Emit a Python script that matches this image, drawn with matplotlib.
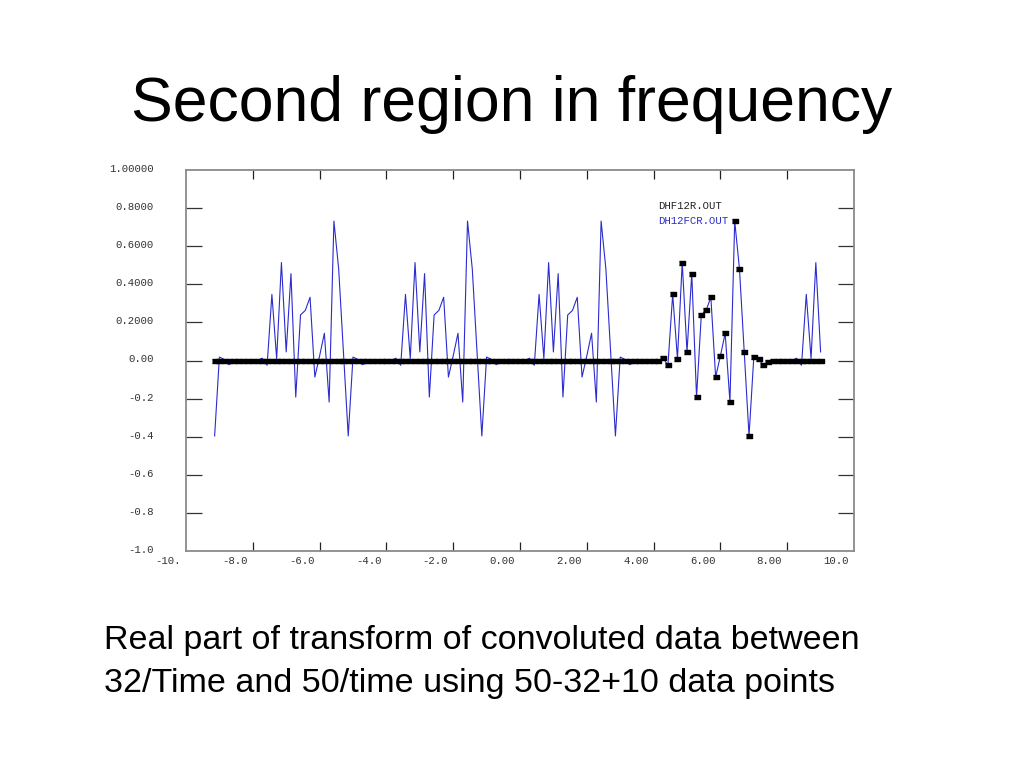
import numpy as np
import matplotlib
matplotlib.use("Agg")
import matplotlib.pyplot as plt
from matplotlib import transforms

# sample index k = -64..63, frequency = k / 7
k_index = np.arange(-64, 64)
freq = k_index / 7.0

# DH12FCR.OUT (blue line)
blue_vals = [
    -0.396, 0.018, 0.006, -0.022, -0.008, -0.003, -0.002, -0.002, -0.001, 0.000,
    0.012, -0.025, 0.347, 0.010, 0.514, 0.045, 0.456, -0.192, 0.239, 0.263,
    0.332, -0.087, 0.024, 0.143, -0.218, 0.732, 0.480, 0.045, -0.396, 0.018,
    0.006, -0.022, -0.008, -0.003, -0.002, -0.002, -0.001, 0.000,
    0.012, -0.025, 0.347, 0.010, 0.514, 0.045, 0.456, -0.192, 0.239, 0.263,
    0.332, -0.087, 0.024, 0.143, -0.218, 0.732, 0.480, 0.045, -0.396, 0.018,
    0.006, -0.022, -0.008, -0.003, -0.002, -0.002, -0.001, 0.000,
    0.012, -0.025, 0.347, 0.010, 0.514, 0.045, 0.456, -0.192, 0.239, 0.263,
    0.332, -0.087, 0.024, 0.143, -0.218, 0.732, 0.480, 0.045, -0.396, 0.018,
    0.006, -0.022, -0.008, -0.003, -0.002, -0.002, -0.001, 0.000,
    0.012, -0.025, 0.347, 0.010, 0.514, 0.045, 0.456, -0.192, 0.239, 0.263,
    0.332, -0.087, 0.024, 0.143, -0.218, 0.732, 0.480, 0.045, -0.396, 0.018,
    0.006, -0.022, -0.008, -0.003, -0.002, -0.002, -0.001, 0.000,
    0.012, -0.025, 0.347, 0.010, 0.514, 0.045,
]

# DHF12R.OUT (black markers): zero except one window of 28 points
black_window = [
    0.012, -0.025, 0.347, 0.010, 0.514, 0.045, 0.456, -0.192, 0.239, 0.263,
    0.332, -0.087, 0.024, 0.143, -0.218, 0.732, 0.480, 0.045, -0.396, 0.018,
    0.006, -0.022, -0.008, -0.003, -0.002, -0.002, -0.001, 0.000,
]
black_vals = [0.0] * 94 + black_window + [0.0] * 6

x_tick_vals = [-10, -8, -6, -4, -2, 0, 2, 4, 6, 8, 10]
x_tick_text = ["-10.", "-8.0", "-6.0", "-4.0", "-2.0", "0.00", "2.00", "4.00", "6.00", "8.00", "10.0"]
y_tick_vals = [1.0, 0.8, 0.6, 0.4, 0.2, 0.0, -0.2, -0.4, -0.6, -0.8, -1.0]
y_tick_text = ["1.00000", "0.8000", "0.6000", "0.4000", "0.2000", "0.00",
               "-0.2", "-0.4", "-0.6", "-0.8", "-1.0"]

title = "Second region in frequency"
caption = ["Real part of transform of convoluted data between",
           "32/Time and 50/time using 50-32+10 data points"]

BLUE = "#2b2bd0"
MONO = "Liberation Mono"

fig = plt.figure(figsize=(10.24, 7.68), dpi=100)
ax = fig.add_axes([186 / 1024, 1 - 551 / 768, 668 / 1024, 381 / 768])

ax.plot(freq, blue_vals, color=BLUE, lw=0.8, zorder=2)
rect = [(-3, -1.8), (3, -1.8), (3, 1.8), (-3, 1.8)]
ax.plot(freq, black_vals, ls="none", marker=rect, markersize=4.4,
        color="black", zorder=3)

ax.set_xlim(-10, 10)
ax.set_ylim(-1, 1)

for s in ax.spines.values():
    s.set_color("#8a8a8a")
    s.set_linewidth(1.3)

ax.set_xticks(x_tick_vals[1:-1])
ax.set_yticks(y_tick_vals[1:-1])
ax.tick_params(axis="x", direction="in", length=6.5, width=0.9, color="#222222",
               top=True, bottom=True, labelbottom=False)
ax.tick_params(axis="y", direction="in", length=11.5, width=0.9, color="#333333",
               left=True, right=True, labelleft=False)

# tick labels, drawn the way the old plot package does it
xoff = transforms.offset_copy(ax.transData, fig=fig, x=-5, y=-5, units="dots")
for v, t in zip(x_tick_vals, x_tick_text):
    ax.text(v, -1.0, t, transform=xoff, ha="right", va="top",
            family=MONO, fontsize=7.7, color="#333333", clip_on=False)
yoff = transforms.offset_copy(ax.transData, fig=fig, x=-32, y=1, units="dots")
for v, t in zip(y_tick_vals, y_tick_text):
    ax.text(-10, v, t, transform=yoff, ha="right", va="center",
            family=MONO, fontsize=7.7, color="#333333", clip_on=False)

# legend as plain text lines
ax.text(4.14, 0.811, "DHF12R.OUT", family=MONO, fontsize=7.7, color="#222222",
        va="center", ha="left")
ax.text(4.14, 0.731, "DH12FCR.OUT", family=MONO, fontsize=7.7, color=BLUE,
        va="center", ha="left")

fig.text(0.5, 1 - 121 / 768, title, ha="center", va="baseline",
         family="Liberation Sans", fontsize=45)
fig.text(104 / 1024, 1 - 649 / 768, caption[0], ha="left", va="baseline",
         family="Liberation Sans", fontsize=24.5)
fig.text(104 / 1024, 1 - 692 / 768, caption[1], ha="left", va="baseline",
         family="Liberation Sans", fontsize=24.5)

fig.savefig("out.png", dpi=100)
